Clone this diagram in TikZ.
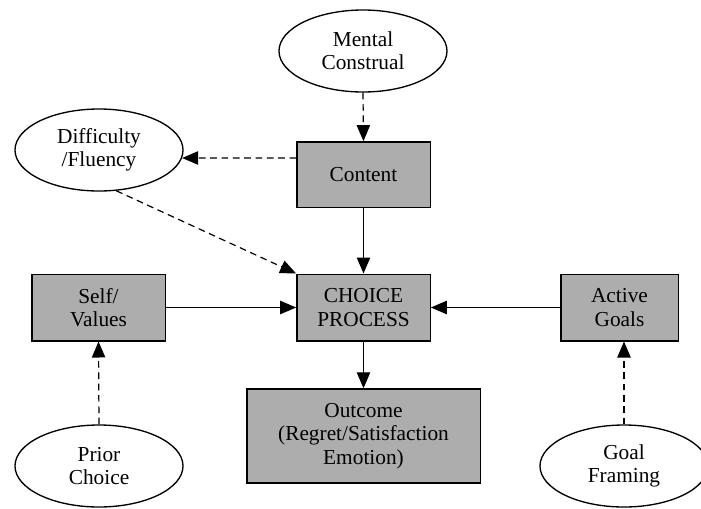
\documentclass[tikz,border=0pt]{standalone}
\usepackage{fontspec}
\setmainfont{Liberation Serif}
\usetikzlibrary{arrows.meta,shapes.geometric}

\tikzset{
	box/.style={draw, line width=1pt, fill=black!32, align=center, inner sep=0pt},
	oval/.style={draw, ellipse, line width=1pt, fill=white, align=center, inner sep=0pt,
		minimum width=126pt, minimum height=61.5pt},
	arr/.style={line width=0.9pt, -{Triangle[length=12pt,width=10pt]}},
	dasharr/.style={arr, dash pattern=on 5pt off 3.5pt}
}

\begin{document}
\begin{tikzpicture}[x=0.75pt, y=-0.75pt, font=\fontsize{16}{17.5}\selectfont]
		\useasboundingbox (0,0) rectangle (701,508);
		% ovals
		\node[oval](mental) at (363,51) {Mental\\Construal};
		\node[oval](fluency) at (99,150) {Difficulty\\/Fluency};
		\node[oval](prior) at (99,466) {Prior\\Choice};
		\node[oval](framing) at (624,466) {Goal\\Framing};
		% boxes
		\node[box, minimum width=100pt, minimum height=49pt](content) at (363.5,174.5) {Content};
		\node[box, minimum width=100pt, minimum height=50pt](choice) at (363.5,307.5) {CHOICE\\PROCESS};
		\node[box, minimum width=100pt, minimum height=50pt](self) at (98.5,307.5) {Self/\\Values};
		\node[box, minimum width=88pt, minimum height=50pt](goals) at (619.5,307.5) {Active\\Goals};
		\node[box, minimum width=175pt, minimum height=70.5pt](outcome) at (363.5,436) {Outcome\\(Regret/Satisfaction\\Emotion)};
		% arrows
		\draw[dasharr] (mental.south) -- (content.north);
		\draw[dasharr] ([yshift=12.4pt]content.west) -- ([xshift=-1.2pt,yshift=-6pt]fluency.east);
		\draw[dasharr] (fluency.-67) -- (choice.north west);
		\draw[arr] (content.south) -- (choice.north);
		\draw[arr] (self.east) -- (choice.west);
		\draw[arr] (goals.west) -- (choice.east);
		\draw[arr] (choice.south) -- (outcome.north);
		\draw[dasharr] (prior.north) -- (self.south);
		\draw[dasharr] (framing.north) -- (framing.north |- goals.south);
	\end{tikzpicture}
\end{document}
